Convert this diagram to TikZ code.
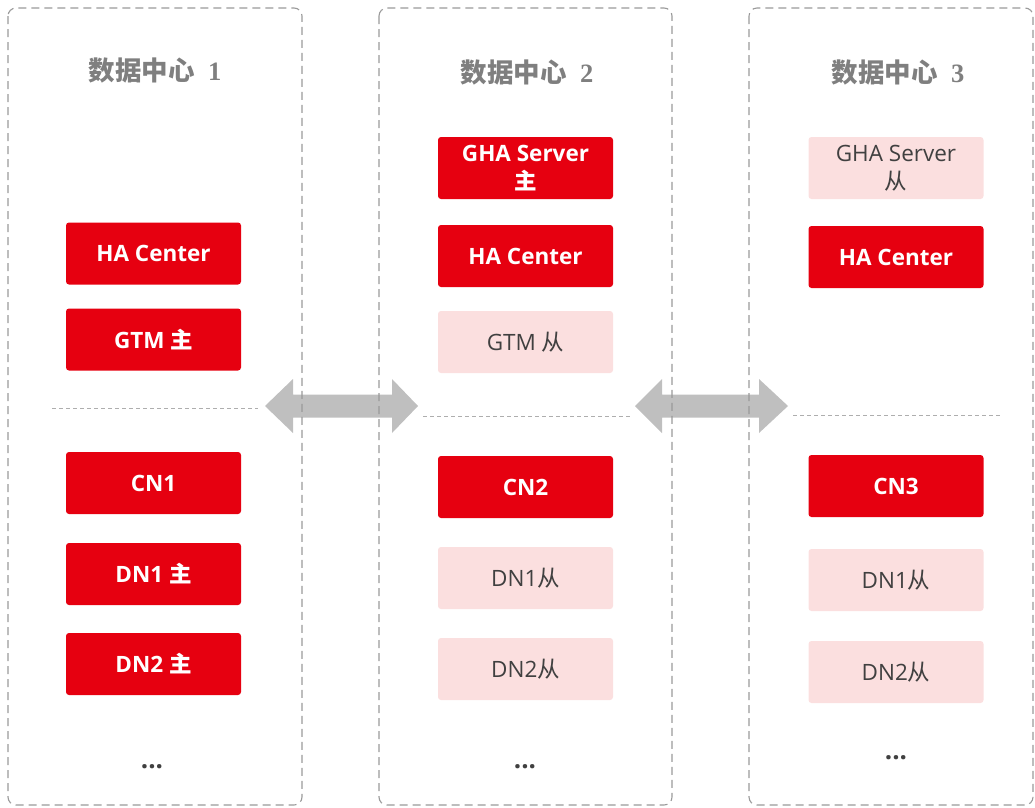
\documentclass[tikz,border=0pt]{standalone}
\usepackage{fontspec}
\setmainfont{Open Sans}
\newfontfamily\cjk{Noto Sans CJK SC}
\newfontfamily\digitfont{Liberation Serif}
\definecolor{boxred}{HTML}{E60010}
\definecolor{boxpink}{HTML}{FBDFDF}
\definecolor{txtgray}{HTML}{404040}
\definecolor{titlegray}{HTML}{7F7F7F}
\definecolor{arrowgray}{HTML}{BFBFBF}
\definecolor{bordergray}{HTML}{9A9A9A}
\tikzset{
  redbox/.style={rectangle, rounded corners=3pt, fill=boxred, text=white,
    font=\bfseries\fontsize{22.5}{28}\selectfont, minimum width=175pt,
    minimum height=62pt, inner sep=0pt, align=center},
  pinkbox/.style={rectangle, rounded corners=3pt, fill=boxpink, text=txtgray,
    font=\fontsize{22.5}{28}\selectfont, minimum width=175pt,
    minimum height=62pt, inner sep=0pt, align=center},
  paneltitle/.style={text=titlegray, font=\fontsize{26.5}{30}\selectfont, inner sep=0pt},
  panel/.style={draw=bordergray, line width=1.1pt, dash pattern=on 8pt off 5pt, rounded corners=8pt},
  sepline/.style={draw=bordergray!80, line width=0.9pt, dash pattern=on 4pt off 3pt},
  dotsnode/.style={text=txtgray, font=\bfseries\fontsize{26}{30}\selectfont, inner sep=0pt, anchor=base},
  bigarrow/.style={fill=arrowgray, draw=none}
}
\newcommand{\zh}[1]{{\cjk #1}}
\begin{document}
\begin{tikzpicture}[x=1pt,y=-1pt]
\useasboundingbox (0,0) rectangle (1035,807);
% arrows (behind panel borders)
\fill[bigarrow] (265,406) -- (293,379) -- (293,394.5) -- (392,394.5) -- (392,379) -- (418,406)
  -- (392,433) -- (392,417.5) -- (293,417.5) -- (293,433) -- cycle;
\fill[bigarrow] (635,406) -- (662,379) -- (662,394.5) -- (759,394.5) -- (759,379) -- (788,406)
  -- (759,433) -- (759,417.5) -- (662,417.5) -- (662,433) -- cycle;
% panels
\draw[panel] (8,8) rectangle (302,805);
\draw[panel] (379,8) rectangle (672,805);
\draw[panel] (749,8) rectangle (1033,805);
% titles
\node[paneltitle] (t1) at (155,70) {\zh{\bfseries 数据中心}\hspace{0.5em}{\digitfont\bfseries 1}};
\node[paneltitle] (t2) at (527,72) {\zh{\bfseries 数据中心}\hspace{0.5em}{\digitfont\bfseries 2}};
\node[paneltitle] (t3) at (898,72) {\zh{\bfseries 数据中心}\hspace{0.5em}{\digitfont\bfseries 3}};
% panel 1
\node[redbox] (ha1) at (153.5,253.5) {HA Center};
\node[redbox] (gtm1) at (153.5,339.5) {GTM \zh{\bfseries 主}};
\coordinate (s1a) at (52,408); \coordinate (s1b) at (258,408);
\draw[sepline] (s1a) -- (s1b);
\node[redbox] (cn1) at (153.5,483) {CN1};
\node[redbox] (dn11) at (153.5,574) {DN1 \zh{\bfseries 主}};
\node[redbox] (dn21) at (153.5,664) {DN2 \zh{\bfseries 主}};
\node[dotsnode] (d1) at (152,768) {...};
% panel 2
\node[redbox] (gha2) at (525.5,168) {GHA Server\\\zh{\bfseries 主}};
\node[redbox] (ha2) at (525.5,256) {HA Center};
\node[pinkbox] (gtm2) at (525.5,342) {GTM \zh{从}};
\coordinate (s2a) at (423,416); \coordinate (s2b) at (630,416);
\draw[sepline] (s2a) -- (s2b);
\node[redbox] (cn2) at (525.5,487) {CN2};
\node[pinkbox] (dn12) at (525.5,578) {DN1\zh{从}};
\node[pinkbox] (dn22) at (525.5,669) {DN2\zh{从}};
\node[dotsnode] (d2) at (525,768) {...};
% panel 3
\node[pinkbox] (gha3) at (896,168) {GHA Server\\\zh{从}};
\node[redbox] (ha3) at (896,257) {HA Center};
\coordinate (s3a) at (793,415); \coordinate (s3b) at (1000,415);
\draw[sepline] (s3a) -- (s3b);
\node[redbox] (cn3) at (896,486) {CN3};
\node[pinkbox] (dn13) at (896,580) {DN1\zh{从}};
\node[pinkbox] (dn23) at (896,672) {DN2\zh{从}};
\node[dotsnode] (d3) at (896,759) {...};
\end{tikzpicture}
\end{document}
